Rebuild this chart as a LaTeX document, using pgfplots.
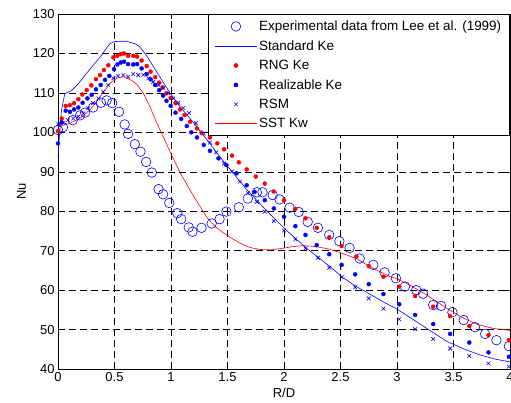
\documentclass[border=0pt]{standalone}
\usepackage{fontspec}
\setmainfont{Liberation Sans}
\usepackage{pgfplots}
\pgfplotsset{compat=1.18}
\usepackage{pgfplotstable}

\pgfplotstableread{
x y
0 100.6
0.044 101.3
0.13 103.1
0.195 104.3
0.24 105.0
0.31 106.3
0.38 107.5
0.43 108.1
0.48 107.4
0.54 105.2
0.59 102.0
0.62 99.6
0.68 97.0
0.73 95.1
0.78 92.5
0.83 89.8
0.89 85.6
0.93 84.3
0.985 82.1
1.056 79.5
1.09 78.0
1.157 75.9
1.19 74.8
1.27 75.8
1.36 76.9
1.43 78.0
1.49 79.9
1.6 81.0
1.68 83.2
1.76 84.8
1.81 84.8
1.9 84.1
1.96 83.0
2.05 80.9
2.13 79.8
2.21 77.3
2.3 75.8
2.4 74.0
2.49 72.4
2.58 70.7
2.67 68.0
2.79 66.4
2.89 64.5
2.99 63.0
3.07 60.9
3.17 60.0
3.23 59.1
3.32 56.2
3.39 56.0
3.49 54.4
3.59 52.4
3.69 50.6
3.78 48.9
3.88 47.3
3.99 45.8
}\expdata

\pgfplotstableread{
x y
0 93.5
0.01 98
0.03 105.5
0.06 109.8
0.12 110.6
0.18 112.3
0.22 113.8
0.3 116.6
0.387 119.6
0.43 121.4
0.46 122.5
0.5 123.0
0.57 123.1
0.61 123.1
0.65 122.7
0.68 122.5
0.72 121.8
0.785 119.4
0.87 115.5
0.99 110.0
1.08 106.5
1.23 101.4
1.40 95.0
1.46 92.8
1.67 85.5
1.85 80.0
2.02 75.2
2.2 70.6
2.41 65.9
2.52 63.2
2.64 60.9
2.76 59.0
2.88 57.0
3.0 55.2
3.14 52.6
3.29 49.8
3.44 47.0
3.6 45.0
3.73 43.6
3.87 42.5
4.0 41.8
}\stdke

\pgfplotstableread{
x y
0 100.3
0.033 103.5
0.068 106.7
0.106 106.9
0.142 107.4
0.18 108.4
0.215 109.6
0.254 110.7
0.295 111.9
0.336 113.5
0.372 114.5
0.407 115.8
0.445 117.0
0.49 119.0
0.525 119.4
0.555 119.8
0.584 120.0
0.62 119.4
0.666 119.4
0.70 119.2
0.74 118.2
0.785 116.8
0.82 115.4
0.86 114.0
0.896 112.6
0.926 111.4
0.96 109.9
0.997 108.7
1.04 107.4
1.08 105.8
1.12 104.4
1.17 102.7
1.23 101.0
1.27 99.9
1.345 98.7
1.41 97.2
1.47 95.7
1.54 94.1
1.60 92.4
1.67 90.6
1.75 88.8
1.83 87.0
1.91 85.0
2.0 82.8
2.10 80.6
2.19 78.2
2.29 75.8
2.40 73.4
2.51 71.2
2.64 68.5
2.75 66.1
2.88 63.4
3.02 60.9
3.16 58.5
3.32 55.8
3.47 53.4
3.64 50.9
3.81 48.6
3.99 47.3
}\rng

\pgfplotstableread{
x y
0 97.2
0.033 102.5
0.068 105.5
0.106 105.2
0.142 105.8
0.18 106.3
0.218 107.5
0.26 108.6
0.298 109.5
0.336 110.9
0.378 112.0
0.416 113.3
0.454 114.3
0.496 116.0
0.525 117.2
0.555 117.7
0.584 117.9
0.62 117.3
0.666 117.2
0.70 117.3
0.74 116.2
0.785 114.8
0.82 113.4
0.86 112.0
0.896 110.7
0.93 109.3
0.96 108.0
0.997 106.7
1.04 105.0
1.09 103.4
1.14 101.6
1.18 100.0
1.23 98.7
1.29 96.8
1.345 95.3
1.42 93.4
1.49 91.7
1.58 89.6
1.67 86.6
1.74 84.9
1.83 82.8
1.91 80.7
2.0 78.6
2.10 76.2
2.19 74.0
2.29 71.4
2.40 69.1
2.51 66.4
2.63 64.0
2.75 61.5
2.88 59.0
3.02 56.4
3.16 53.7
3.32 51.4
3.47 48.9
3.64 46.7
3.81 44.2
3.99 43.1
}\realk

\pgfplotstableread{
x y
0.003 102.1
0.047 102.4
0.09 103.1
0.135 103.5
0.18 104.0
0.224 104.8
0.268 106.1
0.31 107.4
0.357 108.6
0.40 110.3
0.445 112.0
0.49 113.7
0.53 114.3
0.578 114.5
0.62 114.1
0.666 114.8
0.71 114.5
0.755 114.6
0.80 113.7
0.843 112.8
0.888 112.0
0.93 111.2
0.976 109.9
1.02 108.6
1.065 107.5
1.11 106.2
1.16 104.9
1.22 102.3
1.29 99.7
1.345 97.4
1.40 94.9
1.47 92.1
1.54 90.1
1.61 87.5
1.68 84.6
1.76 82.4
1.83 79.9
1.91 77.5
2.0 75.1
2.10 72.9
2.19 70.6
2.30 68.2
2.40 65.7
2.51 63.3
2.63 60.7
2.75 57.9
2.88 55.3
3.02 52.6
3.16 50.1
3.32 47.6
3.47 45.2
3.64 43.3
3.81 41.4
3.99 40.6
}\rsm

\pgfplotstableread{
x y
0 101.4
0.106 102.3
0.195 103.6
0.283 105.7
0.372 109.0
0.46 112.4
0.52 113.7
0.578 114.1
0.65 113.2
0.696 112.2
0.755 109.9
0.814 106.5
0.87 102.6
0.93 99.0
0.99 95.2
1.08 89.8
1.2 83.8
1.26 81.1
1.32 78.3
1.40 75.9
1.5 73.8
1.61 71.9
1.70 70.8
1.79 70.3
1.88 70.2
1.99 70.6
2.07 71.0
2.17 71.3
2.29 71.0
2.40 70.4
2.50 69.5
2.64 68.0
2.79 65.5
2.94 63.4
3.0 62.9
3.13 61.0
3.26 58.8
3.44 55.4
3.58 53.0
3.71 51.3
3.85 50.3
4.0 49.8
}\sst

\begin{document}
\begin{tikzpicture}
\begin{axis}[
  scale only axis,
  width=452bp, height=355bp,
  xmin=0, xmax=4, ymin=40, ymax=130,
  xtick={0,0.5,...,4}, ytick={40,50,...,130},
  xticklabels={0,0.5,1,1.5,2,2.5,3,3.5,4},
  grid=major,
  major grid style={black, line width=0.5bp, dash pattern=on 7bp off 4bp},
  tick align=inside, major tick length=5bp,
  tick style={black, line width=0.5bp},
  axis line style={black, line width=0.6bp},
  /pgf/number format/assume math mode=true,
  tick label style={font=\fontsize{13}{15}\selectfont},
  label style={font=\fontsize{13}{15}\selectfont},
  xlabel={R/D}, ylabel={Nu},
  legend cell align=left,
  legend style={at={(1,1)}, anchor=north east, draw=black, line width=0.6bp, fill=white,
    font=\fontsize{13.5}{15}\selectfont, row sep=4.4bp, inner xsep=6.5bp, inner ysep=4.5bp},
  legend image code/.code={\draw[mark repeat=2,mark phase=2,#1] plot coordinates {(0bp,0bp) (21bp,0bp) (42bp,0bp)};},
]
\addplot[only marks, mark=o, mark size=4.8bp, blue, line width=0.6bp] table {\expdata};
\addlegendentry{Experimental data from Lee et al. (1999)}
\addplot[blue, line width=0.6bp, no marks] table {\stdke};
\addlegendentry{Standard Ke}
\addplot[only marks, mark=*, mark size=2bp, red, draw=none, fill=red] table {\rng};
\addlegendentry{RNG Ke}
\addplot[only marks, mark=*, mark size=2bp, blue, draw=none, fill=blue] table {\realk};
\addlegendentry{Realizable Ke}
\addplot[only marks, mark=x, mark size=2.6bp, blue, line width=0.6bp] table {\rsm};
\addlegendentry{RSM}
\addplot[red, line width=0.6bp, no marks] table {\sst};
\addlegendentry{SST Kw}
\end{axis}
\pgfresetboundingbox
\useasboundingbox (-58bp,-34bp) rectangle (453bp,369bp);
\end{tikzpicture}
\end{document}
